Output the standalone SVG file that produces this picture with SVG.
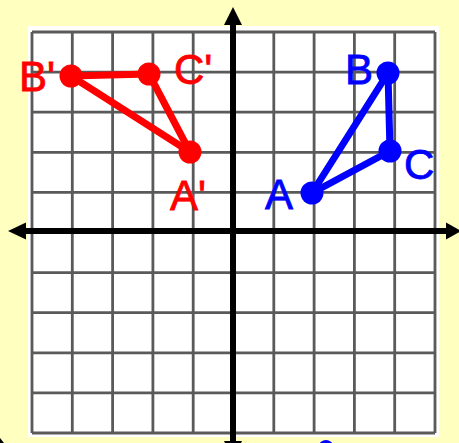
<svg xmlns="http://www.w3.org/2000/svg" width="459" height="443" viewBox="0 0 459 443">
  <defs>
    <style>
      .grid line { stroke: #5a5a5a; stroke-width: 2.8; }
      .axis { stroke: #000; stroke-width: 6; fill: none; }
      .head { fill: #000; }
      .red-edge { stroke: #ff0000; stroke-width: 7; stroke-linecap: round; fill: none; }
      .blue-edge { stroke: #0000ff; stroke-width: 7; stroke-linecap: round; fill: none; }
      .red-dot { fill: #ff0000; }
      .blue-dot { fill: #0000ff; }
      .lbl { font-family: "Liberation Sans", "DejaVu Sans", sans-serif; font-size: 42px; stroke-width: 0.8; }
      .red-lbl { fill: #ff0000; stroke: #ff0000; }
      .blue-lbl { fill: #0000ff; stroke: #0000ff; }
    </style>
    <filter id="soft" x="-5%" y="-5%" width="110%" height="110%">
      <feGaussianBlur stdDeviation="0.6"/>
    </filter>
  </defs>

  <rect x="0" y="0" width="459" height="443" fill="#ffffc0"/>
  <rect x="28" y="26" width="411" height="411" fill="#ffffff"/>

  <g id="grid" class="grid" filter="url(#soft)">
    <line x1="32" y1="32" x2="32" y2="433"/>
    <line x1="72.3" y1="32" x2="72.3" y2="433"/>
    <line x1="112.6" y1="32" x2="112.6" y2="433"/>
    <line x1="152.9" y1="32" x2="152.9" y2="433"/>
    <line x1="193.2" y1="32" x2="193.2" y2="433"/>
    <line x1="273.8" y1="32" x2="273.8" y2="433"/>
    <line x1="314.1" y1="32" x2="314.1" y2="433"/>
    <line x1="354.4" y1="32" x2="354.4" y2="433"/>
    <line x1="394.7" y1="32" x2="394.7" y2="433"/>
    <line x1="435" y1="32" x2="435" y2="433"/>
    <line x1="32" y1="32" x2="435" y2="32"/>
    <line x1="32" y1="72.1" x2="435" y2="72.1"/>
    <line x1="32" y1="112.2" x2="435" y2="112.2"/>
    <line x1="32" y1="152.3" x2="435" y2="152.3"/>
    <line x1="32" y1="192.4" x2="435" y2="192.4"/>
    <line x1="32" y1="272.6" x2="435" y2="272.6"/>
    <line x1="32" y1="312.7" x2="435" y2="312.7"/>
    <line x1="32" y1="352.8" x2="435" y2="352.8"/>
    <line x1="32" y1="392.9" x2="435" y2="392.9"/>
    <line x1="32" y1="433" x2="435" y2="433"/>
  </g>

  <g id="axes">
    <line class="axis" x1="233" y1="22" x2="233" y2="443"/>
    <line class="axis" x1="22" y1="231" x2="449" y2="231"/>
    <path class="head" d="M233,7 L242,25 L224,25 Z"/>
    <path class="head" d="M224,441 L242,441 L233,459 Z"/>
    <path class="head" d="M8,231 L26,222.5 L26,239.5 Z"/>
    <path class="head" d="M461,231 L446,222.5 L446,239.5 Z"/>
    <path class="head" d="M0,438 L4,443 L0,443 Z"/>
  </g>

  <ellipse cx="326" cy="446" rx="7" ry="6" fill="#0000ff"/>

  <g id="connectors">
    <line class="red-edge" x1="71" y1="76" x2="149" y2="74"/>
    <line class="red-edge" x1="149" y1="74" x2="190" y2="152"/>
    <line class="red-edge" x1="190" y1="152" x2="71" y2="76"/>
    <line class="blue-edge" x1="312" y1="193" x2="388" y2="73"/>
    <line class="blue-edge" x1="388" y1="73" x2="390" y2="151"/>
    <line class="blue-edge" x1="390" y1="151" x2="312" y2="193"/>
  </g>

  <g id="node-Bp">
    <circle class="red-dot" cx="71" cy="76" r="11.5"/>
    <text class="lbl red-lbl" x="19" y="91">B'</text>
  </g>
  <g id="node-Cp">
    <circle class="red-dot" cx="149" cy="74" r="11.5"/>
    <text class="lbl red-lbl" x="174" y="84">C'</text>
  </g>
  <g id="node-Ap">
    <circle class="red-dot" cx="190" cy="152" r="11.5"/>
    <text class="lbl red-lbl" x="170" y="210">A'</text>
  </g>
  <g id="node-A">
    <circle class="blue-dot" cx="312" cy="193" r="11.5"/>
    <text class="lbl blue-lbl" x="265" y="209">A</text>
  </g>
  <g id="node-B">
    <circle class="blue-dot" cx="388" cy="73" r="11.5"/>
    <text class="lbl blue-lbl" x="345" y="84">B</text>
  </g>
  <g id="node-C">
    <circle class="blue-dot" cx="390" cy="151" r="11.5"/>
    <text class="lbl blue-lbl" x="404" y="179">C</text>
  </g>
</svg>
